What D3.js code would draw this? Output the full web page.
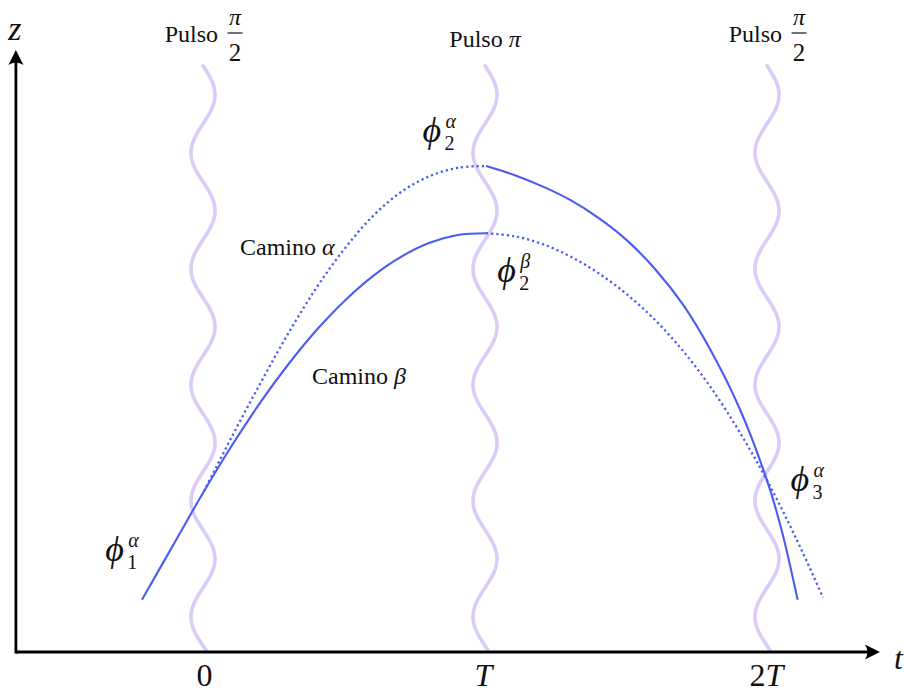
<!DOCTYPE html>
<html>
<head>
<meta charset="utf-8">
<script src="https://cdn.jsdelivr.net/npm/d3@7"></script>
<style>
  body { margin: 0; background: #fff; }
  svg { display: block; }
</style>
</head>
<body>
<svg id="chart" width="904" height="692"></svg>
<script>
// Pulse instants (units of T) and the pulse area written above each one
const pulseTimes = [0, 1, 2];
const pulseAreas = ["π/2", "π", "π/2"];

// Time-axis labels
const tickValues = [0, 1, 2];
const tickLabels = ["0", "T", "2T"];

// Trajectories: t in units of T, z in arbitrary height units
// before the first pulse and along path β up to T (solid)
const tBetaFirst = [-0.22, -0.1, 0, 0.1, 0.2, 0.3, 0.4, 0.5, 0.6, 0.7, 0.8, 0.9, 1.0];
const zBetaFirst = [8.7, 18.6, 26.8, 34.5, 41.6, 48.0, 53.7, 58.6, 62.7, 65.9, 68.2, 69.5, 69.8];
// path α between 0 and T (dotted)
const tAlphaFirst = [0, 0.1, 0.2, 0.3, 0.4, 0.5, 0.6, 0.7, 0.8, 0.9, 1.0];
const zAlphaFirst = [26.8, 36.0, 44.8, 53.2, 60.8, 67.3, 72.7, 76.7, 79.3, 80.7, 81.0];
// path α after T (solid)
const tAlphaSecond = [1.0, 1.1, 1.2, 1.3, 1.4, 1.5, 1.6, 1.7, 1.8, 1.9, 2.0, 2.05, 2.105];
const zAlphaSecond = [81.0, 79.5, 77.6, 75.3, 72.3, 68.6, 63.8, 57.8, 50.0, 40.5, 28.1, 20.0, 8.7];
// path β after T (dotted)
const tBetaSecond = [1.0, 1.1, 1.2, 1.3, 1.4, 1.5, 1.6, 1.7, 1.8, 1.9, 2.0, 2.1, 2.195];
const zBetaSecond = [69.8, 69.3, 68.0, 65.9, 63.1, 59.6, 55.3, 50.1, 43.9, 36.6, 28.3, 18.9, 9.1];

// Phase labels: time, height, subscript, superscript
const phaseT = [-0.35, 0.775, 1.04, 2.08];
const phaseZ = [15.2, 85.0, 61.6, 26.8];
const phaseSub = ["1", "2", "2", "3"];
const phaseSup = ["α", "α", "β", "α"];

const serif = "Liberation Serif";
const svg = d3.select("#chart");
const x = d3.scaleLinear().domain([0, 2]).range([204, 768]);
const z = d3.scaleLinear().domain([0, 100]).range([652, 52]);

const tAxisMin = -0.667, tAxisMax = 2.397;
const zAxisMax = 100.35;
const pulseTop = 97.7;

const blue = "#4a5bf2";
const lavender = "#dccbf8";
const ink = "#111";

// Laser pulses drawn as vertical wavy lines
const waveAmp = 12, wavePeriod = 116;
pulseTimes.forEach(tp => {
  const cx = x(tp) - 1;
  const y0 = z(pulseTop), y1 = z(0);
  const pts = d3.range(y0, y1 + 0.01, 1.5).map(yy => [cx + waveAmp * Math.sin(2 * Math.PI * (yy - y0) / wavePeriod), yy]);
  svg.append("path")
    .attr("d", d3.line()(pts))
    .attr("fill", "none")
    .attr("stroke", lavender)
    .attr("stroke-width", 3.6)
    .attr("stroke-linecap", "round");
});

// Axes with arrow heads
svg.append("line")
  .attr("x1", x(tAxisMin)).attr("y1", z(0))
  .attr("x2", x(tAxisMax) - 6).attr("y2", z(0))
  .attr("stroke", "#000").attr("stroke-width", 2.8);
svg.append("line")
  .attr("x1", x(tAxisMin)).attr("y1", z(0) + 1.4)
  .attr("x2", x(tAxisMin)).attr("y2", z(zAxisMax) + 6)
  .attr("stroke", "#000").attr("stroke-width", 2.8);

const arrowHead = "M0,0 L-15,-7.5 Q-10,0 -15,7.5 Z";
svg.append("path").attr("d", arrowHead)
  .attr("transform", `translate(${x(tAxisMax)},${z(0)})`).attr("fill", "#000");
svg.append("path").attr("d", arrowHead)
  .attr("transform", `translate(${x(tAxisMin)},${z(zAxisMax)}) rotate(-90)`).attr("fill", "#000");

svg.append("text").attr("x", x(tAxisMin) - 1).attr("y", 40)
  .attr("text-anchor", "middle").attr("font-family", serif).attr("fill", ink)
  .attr("font-size", 34).attr("font-style", "italic").text("z");
svg.append("text").attr("x", x(tAxisMax) + 14).attr("y", 669)
  .attr("font-family", serif).attr("fill", ink)
  .attr("font-size", 32).attr("font-style", "italic").text("t");

// Time tick labels via a D3 axis without tick marks
const tAxis = d3.axisBottom(x).tickValues(tickValues).tickSize(0).tickPadding(0)
  .tickFormat((d, i) => tickLabels[i]);
const gAxis = svg.append("g").attr("transform", `translate(0,${z(0)})`).call(tAxis);
gAxis.select(".domain").remove();
gAxis.selectAll(".tick text").each(function(d, i) {
  const label = tickLabels[i];
  const el = d3.select(this).text(null)
    .attr("x", i === 1 ? -3 : (i === 2 ? -2 : 0))
    .attr("y", 34).attr("dy", null)
    .attr("font-size", 32).attr("fill", ink)
    .attr("font-family", serif);
  for (const ch of label) {
    el.append("tspan").attr("font-style", ch === "T" ? "italic" : "normal").text(ch);
  }
});

// Trajectory lines
const line = d3.line().x(d => x(d[0])).y(d => z(d[1])).curve(d3.curveCatmullRom.alpha(0.5));
const zipPts = (ts, zs) => ts.map((t, i) => [t, zs[i]]);
const series = [
  { pts: zipPts(tBetaFirst, zBetaFirst), dotted: false },
  { pts: zipPts(tAlphaFirst, zAlphaFirst), dotted: true },
  { pts: zipPts(tAlphaSecond, zAlphaSecond), dotted: false },
  { pts: zipPts(tBetaSecond, zBetaSecond), dotted: true }
];
series.forEach(s => {
  svg.append("path")
    .attr("d", line(s.pts))
    .attr("fill", "none")
    .attr("stroke", blue)
    .attr("stroke-width", s.dotted ? 2.3 : 2.1)
    .attr("stroke-dasharray", s.dotted ? "2.2 3" : null);
});

// Pulse titles
const titleSize = 24;
function fraction(cx, num, den) {
  svg.append("text").attr("x", cx).attr("y", 25).attr("text-anchor", "middle")
    .attr("font-family", serif).attr("fill", ink)
    .attr("font-size", titleSize).attr("font-style", "italic").text(num);
  svg.append("line").attr("x1", cx - 7.5).attr("x2", cx + 7.5).attr("y1", 33).attr("y2", 33)
    .attr("stroke", ink).attr("stroke-width", 1.2);
  svg.append("text").attr("x", cx).attr("y", 61).attr("text-anchor", "middle")
    .attr("font-family", serif).attr("fill", ink)
    .attr("font-size", 25).text(den);
}
pulseTimes.forEach((tp, i) => {
  const area = pulseAreas[i];
  if (area.includes("/")) {
    const [num, den] = area.split("/");
    svg.append("text").attr("x", x(tp) + 14).attr("y", 42).attr("text-anchor", "end")
      .attr("font-family", serif).attr("fill", ink)
      .attr("font-size", titleSize).text("Pulso");
    fraction(x(tp) + 31, num, den);
  } else {
    const tx = svg.append("text").attr("x", x(tp) - 1).attr("y", 47).attr("text-anchor", "middle")
      .attr("font-family", serif).attr("fill", ink)
      .attr("font-size", titleSize);
    tx.append("tspan").text("Pulso ");
    tx.append("tspan").attr("font-style", "italic").text(area);
  }
});

// Path names
const pathNames = [["Camino ", "α", 240, 255], ["Camino ", "β", 312, 384]];
pathNames.forEach(([w, g, px, py]) => {
  const tx = svg.append("text").attr("x", px).attr("y", py)
    .attr("font-family", serif).attr("fill", ink).attr("font-size", 24);
  tx.append("tspan").text(w);
  tx.append("tspan").attr("font-style", "italic").text(g);
});

// Phase labels ϕ with sub/superscripts
phaseT.forEach((tp, i) => {
  const px = x(tp), py = z(phaseZ[i]);
  svg.append("text").attr("x", px).attr("y", py)
    .attr("font-family", serif).attr("fill", ink)
    .attr("font-size", 36).attr("font-style", "italic").text("ϕ");
  svg.append("text").attr("x", px + 23).attr("y", py - 14)
    .attr("font-family", serif).attr("fill", ink)
    .attr("font-size", 20).attr("font-style", "italic").text(phaseSup[i]);
  svg.append("text").attr("x", px + 22).attr("y", py + 8)
    .attr("font-family", serif).attr("fill", ink)
    .attr("font-size", 20).text(phaseSub[i]);
});
</script>
</body>
</html>
